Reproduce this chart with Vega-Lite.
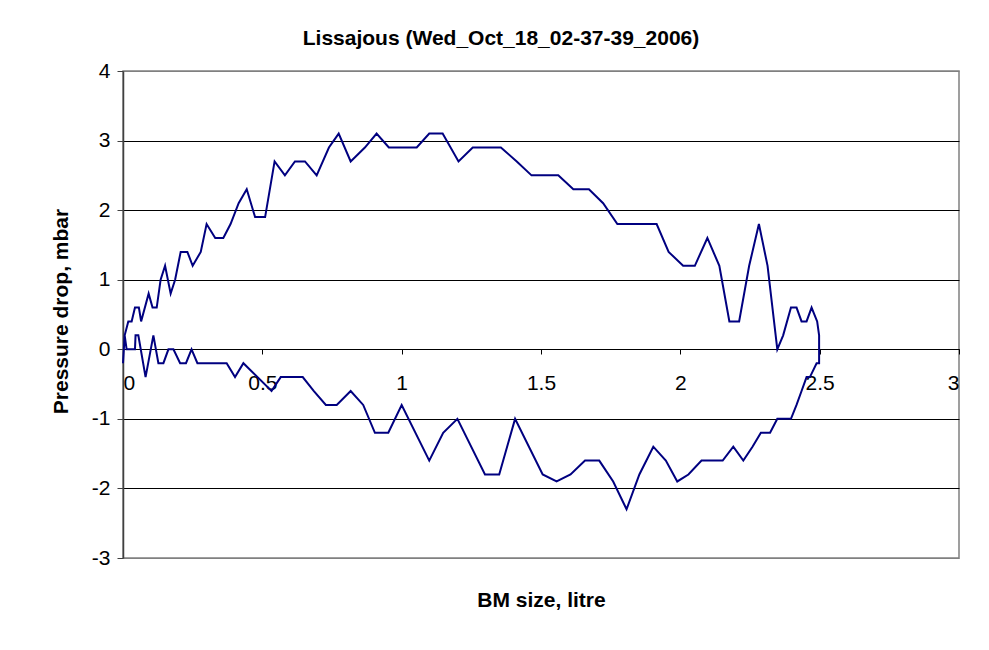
{
  "$schema": "https://vega.github.io/schema/vega-lite/v6.json",
  "autosize": "none",
  "width": 836,
  "height": 487,
  "padding": {"left": 123, "top": 71, "right": 30, "bottom": 92},
  "background": "white",
  "config": {
    "font": "Liberation Sans",
    "view": {"stroke": "#808080", "strokeWidth": 1.5}
  },
  "title": {
    "text": "Lissajous (Wed_Oct_18_02-37-39_2006)",
    "fontSize": 21,
    "fontWeight": "bold",
    "font": "Liberation Sans",
    "color": "black",
    "anchor": "middle",
    "dx": -40,
    "offset": 11
  },
  "data": {
    "values": [
      {"i": 1, "x": 0.0, "y": -0.2},
      {"i": 2, "x": 0.006, "y": 0.2},
      {"i": 3, "x": 0.019, "y": 0.4},
      {"i": 4, "x": 0.031, "y": 0.4},
      {"i": 5, "x": 0.043, "y": 0.6},
      {"i": 6, "x": 0.057, "y": 0.6},
      {"i": 7, "x": 0.065, "y": 0.4},
      {"i": 8, "x": 0.092, "y": 0.8},
      {"i": 9, "x": 0.106, "y": 0.6},
      {"i": 10, "x": 0.121, "y": 0.6},
      {"i": 11, "x": 0.135, "y": 1.0},
      {"i": 12, "x": 0.151, "y": 1.2},
      {"i": 13, "x": 0.171, "y": 0.8},
      {"i": 14, "x": 0.187, "y": 1.0},
      {"i": 15, "x": 0.207, "y": 1.4},
      {"i": 16, "x": 0.231, "y": 1.4},
      {"i": 17, "x": 0.25, "y": 1.2},
      {"i": 18, "x": 0.279, "y": 1.4},
      {"i": 19, "x": 0.3, "y": 1.8},
      {"i": 20, "x": 0.331, "y": 1.6},
      {"i": 21, "x": 0.36, "y": 1.6},
      {"i": 22, "x": 0.386, "y": 1.8},
      {"i": 23, "x": 0.415, "y": 2.1},
      {"i": 24, "x": 0.444, "y": 2.3},
      {"i": 25, "x": 0.474, "y": 1.9},
      {"i": 26, "x": 0.51, "y": 1.9},
      {"i": 27, "x": 0.544, "y": 2.7},
      {"i": 28, "x": 0.581, "y": 2.5},
      {"i": 29, "x": 0.617, "y": 2.7},
      {"i": 30, "x": 0.653, "y": 2.7},
      {"i": 31, "x": 0.695, "y": 2.5},
      {"i": 32, "x": 0.739, "y": 2.9},
      {"i": 33, "x": 0.774, "y": 3.1},
      {"i": 34, "x": 0.817, "y": 2.7},
      {"i": 35, "x": 0.868, "y": 2.9},
      {"i": 36, "x": 0.91, "y": 3.1},
      {"i": 37, "x": 0.954, "y": 2.9},
      {"i": 38, "x": 1.054, "y": 2.9},
      {"i": 39, "x": 1.099, "y": 3.1},
      {"i": 40, "x": 1.147, "y": 3.1},
      {"i": 41, "x": 1.204, "y": 2.7},
      {"i": 42, "x": 1.255, "y": 2.9},
      {"i": 43, "x": 1.356, "y": 2.9},
      {"i": 44, "x": 1.413, "y": 2.7},
      {"i": 45, "x": 1.466, "y": 2.5},
      {"i": 46, "x": 1.562, "y": 2.5},
      {"i": 47, "x": 1.616, "y": 2.3},
      {"i": 48, "x": 1.672, "y": 2.3},
      {"i": 49, "x": 1.723, "y": 2.1},
      {"i": 50, "x": 1.774, "y": 1.8},
      {"i": 51, "x": 1.915, "y": 1.8},
      {"i": 52, "x": 1.958, "y": 1.4},
      {"i": 53, "x": 2.01, "y": 1.2},
      {"i": 54, "x": 2.052, "y": 1.2},
      {"i": 55, "x": 2.097, "y": 1.6},
      {"i": 56, "x": 2.14, "y": 1.2},
      {"i": 57, "x": 2.176, "y": 0.4},
      {"i": 58, "x": 2.211, "y": 0.4},
      {"i": 59, "x": 2.247, "y": 1.2},
      {"i": 60, "x": 2.282, "y": 1.8},
      {"i": 61, "x": 2.313, "y": 1.2},
      {"i": 62, "x": 2.348, "y": 0.0},
      {"i": 63, "x": 2.369, "y": 0.2},
      {"i": 64, "x": 2.397, "y": 0.6},
      {"i": 65, "x": 2.417, "y": 0.6},
      {"i": 66, "x": 2.435, "y": 0.4},
      {"i": 67, "x": 2.453, "y": 0.4},
      {"i": 68, "x": 2.471, "y": 0.6},
      {"i": 69, "x": 2.491, "y": 0.4},
      {"i": 70, "x": 2.498, "y": 0.2},
      {"i": 71, "x": 2.498, "y": -0.2},
      {"i": 72, "x": 2.489, "y": -0.2},
      {"i": 73, "x": 2.465, "y": -0.4},
      {"i": 74, "x": 2.453, "y": -0.4},
      {"i": 75, "x": 2.435, "y": -0.6},
      {"i": 76, "x": 2.417, "y": -0.8},
      {"i": 77, "x": 2.397, "y": -1.0},
      {"i": 78, "x": 2.348, "y": -1.0},
      {"i": 79, "x": 2.322, "y": -1.2},
      {"i": 80, "x": 2.289, "y": -1.2},
      {"i": 81, "x": 2.259, "y": -1.4},
      {"i": 82, "x": 2.226, "y": -1.6},
      {"i": 83, "x": 2.19, "y": -1.4},
      {"i": 84, "x": 2.152, "y": -1.6},
      {"i": 85, "x": 2.076, "y": -1.6},
      {"i": 86, "x": 2.029, "y": -1.8},
      {"i": 87, "x": 1.989, "y": -1.9},
      {"i": 88, "x": 1.948, "y": -1.6},
      {"i": 89, "x": 1.903, "y": -1.4},
      {"i": 90, "x": 1.853, "y": -1.8},
      {"i": 91, "x": 1.807, "y": -2.3},
      {"i": 92, "x": 1.759, "y": -1.9},
      {"i": 93, "x": 1.709, "y": -1.6},
      {"i": 94, "x": 1.658, "y": -1.6},
      {"i": 95, "x": 1.606, "y": -1.8},
      {"i": 96, "x": 1.556, "y": -1.9},
      {"i": 97, "x": 1.506, "y": -1.8},
      {"i": 98, "x": 1.407, "y": -1.0},
      {"i": 99, "x": 1.35, "y": -1.8},
      {"i": 100, "x": 1.299, "y": -1.8},
      {"i": 101, "x": 1.2, "y": -1.0},
      {"i": 102, "x": 1.149, "y": -1.2},
      {"i": 103, "x": 1.099, "y": -1.6},
      {"i": 104, "x": 1.0, "y": -0.8},
      {"i": 105, "x": 0.952, "y": -1.2},
      {"i": 106, "x": 0.904, "y": -1.2},
      {"i": 107, "x": 0.862, "y": -0.8},
      {"i": 108, "x": 0.817, "y": -0.6},
      {"i": 109, "x": 0.767, "y": -0.8},
      {"i": 110, "x": 0.728, "y": -0.8},
      {"i": 111, "x": 0.685, "y": -0.6},
      {"i": 112, "x": 0.645, "y": -0.4},
      {"i": 113, "x": 0.566, "y": -0.4},
      {"i": 114, "x": 0.533, "y": -0.6},
      {"i": 115, "x": 0.432, "y": -0.2},
      {"i": 116, "x": 0.402, "y": -0.4},
      {"i": 117, "x": 0.372, "y": -0.2},
      {"i": 118, "x": 0.267, "y": -0.2},
      {"i": 119, "x": 0.246, "y": 0.0},
      {"i": 120, "x": 0.226, "y": -0.2},
      {"i": 121, "x": 0.205, "y": -0.2},
      {"i": 122, "x": 0.181, "y": 0.0},
      {"i": 123, "x": 0.163, "y": 0.0},
      {"i": 124, "x": 0.145, "y": -0.2},
      {"i": 125, "x": 0.127, "y": -0.2},
      {"i": 126, "x": 0.109, "y": 0.2},
      {"i": 127, "x": 0.081, "y": -0.4},
      {"i": 128, "x": 0.055, "y": 0.2},
      {"i": 129, "x": 0.045, "y": 0.2},
      {"i": 130, "x": 0.043, "y": 0.0},
      {"i": 131, "x": 0.013, "y": 0.0},
      {"i": 132, "x": 0.006, "y": 0.2}
    ]
  },
  "mark": {"type": "line", "color": "#000080", "strokeWidth": 2, "clip": false},
  "encoding": {
    "order": {"field": "i", "type": "quantitative"},
    "x": {
      "field": "x",
      "type": "quantitative",
      "scale": {"domain": [0, 3], "nice": false, "zero": false},
      "axis": {
        "orient": "bottom",
        "offset": -209,
        "values": [0, 0.5, 1, 1.5, 2, 2.5, 3],
        "format": "~g",
        "grid": false,
        "domainColor": "black",
        "domainWidth": 1,
        "tickColor": "black",
        "tickSize": 5,
        "labelPadding": 18,
        "labelFontSize": 21,
        "labelColor": "black",
        "labelFont": "Liberation Sans",
        "title": "BM size, litre",
        "titleFontSize": 21,
        "titleFontWeight": "bold",
        "titleColor": "black",
        "titleFont": "Liberation Sans",
        "titleY": 240,
        "titleBaseline": "top"
      }
    },
    "y": {
      "field": "y",
      "type": "quantitative",
      "scale": {"domain": [-3, 4], "nice": false, "zero": false},
      "axis": {
        "values": [-3, -2, -1, 0, 1, 2, 3, 4],
        "labelExpr": "datum.value < 0 ? '-' + abs(datum.value) : '' + datum.value",
        "grid": true,
        "gridColor": {"condition": {"test": "datum.value == 4 || datum.value == -3", "value": "#808080"}, "value": "black"},
        "gridWidth": 1,
        "domainColor": "#404040",
        "domainWidth": 1.5,
        "tickColor": "#404040",
        "tickSize": 6,
        "labelPadding": 7,
        "labelFontSize": 21,
        "labelColor": "black",
        "labelFont": "Liberation Sans",
        "title": "Pressure drop, mbar",
        "titleFontSize": 21,
        "titleFontWeight": "bold",
        "titleColor": "black",
        "titleFont": "Liberation Sans",
        "titleX": -52,
        "titleY": 240,
        "titleBaseline": "bottom"
      }
    }
  }
}
